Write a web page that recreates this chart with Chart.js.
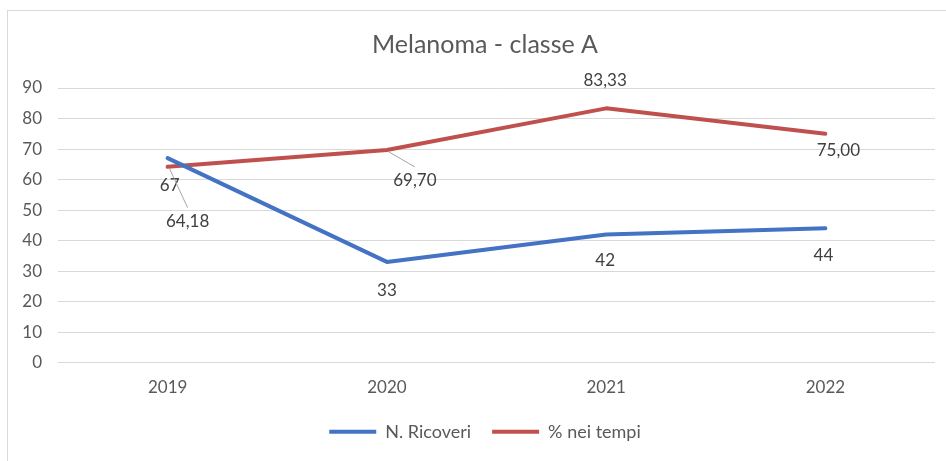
<!DOCTYPE html>
<html>
<head>
<meta charset="utf-8">
<script src="https://cdn.jsdelivr.net/npm/chart.js@4"></script>
<style>
  html, body { margin: 0; padding: 0; background: #fff; overflow: hidden; }
  body { width: 946px; height: 461px; position: relative; }
  #box {
    position: absolute; left: 7px; top: 10px;
    width: 954px; height: 450px;
    border-left: 1px solid #d9d9d9; border-top: 1px solid #d9d9d9;
  }
</style>
</head>
<body>
<div id="box"><canvas id="chart1"></canvas></div>
<script>
const anni = ["2019", "2020", "2021", "2022"];
const ricoveri = [67, 33, 42, 44];
const neiTempi = [64.18, 69.70, 83.33, 75.00];
const yTicks = [0, 10, 20, 30, 40, 50, 60, 70, 80, 90];

// where each data label sits, relative to its point (dx, dy), and whether it has a leader line
const posRicoveri = [[2, 27, false], [0, 29, false], [-1, 26, false], [-2, 27, false]];
const posTempi = [[20, 55, true], [28, 31, true], [-1, -28, false], [13, 17, false]];

const fontFam = "Lato, 'Open Sans', sans-serif";

const etichette = {
  id: 'etichette',
  afterDatasetsDraw(chart) {
    const ctx = chart.ctx;
    ctx.save();
    ctx.font = "17px " + fontFam;
    ctx.textAlign = 'center';
    ctx.textBaseline = 'middle';
    chart.data.datasets.forEach((ds, di) => {
      const meta = chart.getDatasetMeta(di);
      const pos = di == 0 ? posRicoveri : posTempi;
      meta.data.forEach((pt, i) => {
        const v = ds.data[i];
        const txt = di == 0 ? String(v) : v.toFixed(2).replace('.', ',');
        const lx = pt.x + pos[i][0];
        const ly = pt.y + pos[i][1];
        if (pos[i][2]) {
          ctx.strokeStyle = '#a6a6a6';
          ctx.lineWidth = 1;
          ctx.beginPath();
          ctx.moveTo(pt.x + 2, pt.y + 2);
          ctx.lineTo(lx, ly - 14);
          ctx.stroke();
        }
        ctx.fillStyle = '#404040';
        ctx.fillText(txt, lx, ly);
      });
    });
    ctx.restore();
  }
};

new Chart("chart1", {
  type: 'line',
  data: {
    labels: anni,
    datasets: [
      {
        label: "N. Ricoveri",
        data: ricoveri,
        borderColor: "#4472C4",
        backgroundColor: "#4472C4",
        borderWidth: 4,
        pointRadius: 0,
        borderCapStyle: 'round',
        borderJoinStyle: 'round'
      },
      {
        label: "% nei tempi",
        data: neiTempi,
        borderColor: "#C0504D",
        backgroundColor: "#C0504D",
        borderWidth: 4,
        pointRadius: 0,
        borderCapStyle: 'round',
        borderJoinStyle: 'round'
      }
    ]
  },
  options: {
    responsive: true,
    maintainAspectRatio: false,
    animation: false,
    layout: { padding: { left: 0, right: 0, top: 0, bottom: 10.2 } },
    plugins: {
      title: {
        display: true,
        text: "Melanoma - classe A",
        color: "#595959",
        font: { family: fontFam, size: 25, weight: 'normal' },
        padding: { top: 19, bottom: 28 }
      },
      legend: {
        position: 'bottom',
        labels: {
          usePointStyle: true,
          pointStyle: 'line',
          pointStyleWidth: 47,
          color: "#595959",
          font: { family: fontFam, size: 18 },
          padding: 21
        }
      },
      tooltip: { enabled: false }
    },
    scales: {
      x: {
        offset: true,
        grid: { display: false, drawTicks: false, offset: true },
        border: { display: false },
        ticks: { color: "#595959", font: { family: fontFam, size: 17 }, padding: 15 },
        afterFit: s => { s.height = 39.2; }
      },
      y: {
        min: 0,
        max: 90,
        afterBuildTicks: s => { s.ticks = yTicks.map(v => ({ value: v })); },
        grid: { color: "#d9d9d9", drawTicks: false },
        border: { display: false },
        ticks: { color: "#595959", font: { family: fontFam, size: 17 }, padding: 16 },
        afterFit: s => { s.width = 50; }
      },
      // empty right margin so the plot ends where the reference does
      spazio: {
        type: 'linear',
        position: 'right',
        grid: { display: false, drawTicks: false },
        border: { display: false },
        ticks: { display: false },
        afterFit: s => { s.width = 27; }
      }
    }
  },
  plugins: [etichette]
});
</script>
</body>
</html>
